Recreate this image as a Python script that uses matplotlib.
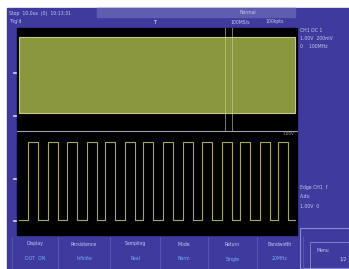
import matplotlib
matplotlib.use("Agg")
import matplotlib.pyplot as plt
from matplotlib.patches import Rectangle

W, H = 349, 269

# channel 2: square wave edges (divisions)
rise_div = [0.39, 1.26, 2.09, 2.96, 3.74, 4.61, 5.39, 6.26, 7.13, 7.96, 8.83, 9.61, 10.48, 11.26]
fall_div = [0.82, 1.69, 2.52, 3.39, 4.17, 5.04, 5.82, 6.69, 7.56, 8.39, 9.26, 10.04, 10.91, 11.69]
sq_low, sq_high = 0.0, 1.0

# channel 1: dense signal, only the envelope is visible
env_t = [0.0, 12.0]
env_hi = [1.0, 1.0]
env_lo = [-1.0, -1.0]
cursor_div = [8.96, 9.26]

menu_labels = ["Display", "Persistence", "Sampling", "Mode", "Return", "Bandwidth"]
menu_values = ["DOT  ON", "Infinite", "Real", "Norm", "Single", "20MHz"]

purple = "#3f3b9e"
olive = "#8b973c"
trace = "#a8a852"
txt = "#c8c8f0"
cyan = "#6fb4ff"


def box(x0, y0, x1, y1):
    return [x0 / W, 1 - y1 / H, (x1 - x0) / W, (y1 - y0) / H]


fig = plt.figure(figsize=(W / 100, H / 100), dpi=100)
fig.patch.set_facecolor("white")

bg = fig.add_axes([0, 0, 1, 1])
bg.set_xlim(0, W)
bg.set_ylim(H, 0)
bg.axis("off")
bg.add_patch(Rectangle((7, 8), W - 7, H - 8, color=purple))
bg.add_patch(Rectangle((97, 8), 198, 9, color="#5f5db0"))
bg.add_patch(Rectangle((17, 28), 280, 207, color="black"))

# header text
bg.text(9, 13, "Stop  10.0us  (0)  10:13:31", color=txt, fontsize=3.3, va="center")
bg.text(9, 22, "Trig'd", color=txt, fontsize=3.3, va="center")
bg.text(155, 22, "T", color="white", fontsize=3.5, va="center", ha="center")
bg.text(240, 12, "Normal", color=txt, fontsize=3.3, va="center")
bg.text(230, 22, "100MS/s", color=txt, fontsize=3.3, va="center")
bg.text(265, 22, "100kpts", color=txt, fontsize=3.3, va="center")

# right side panel
for y, s in [(30, "CH1 DC 1"), (38, "1.00V  200mV"), (47, "0    100MHz")]:
    bg.text(300, y, s, color=txt, fontsize=3.3, va="center")
for y, s in [(187, "Edge CH1  f"), (197, "Auto"), (207, "1.00V  0")]:
    bg.text(300, y, s, color=txt, fontsize=3.3, va="center")

# channel markers on the left edge
for y in [73, 116, 179, 221]:
    bg.plot([14, 16], [y, y], color="#d8d8f0", lw=1.2)

# bottom menu
seps = [12, 58, 110, 160, 208, 257, 303]
for x in seps:
    bg.plot([x, x], [237, 268], color="#5754b4", lw=0.8)
for i, (lab, val) in enumerate(zip(menu_labels, menu_values)):
    xc = (seps[i] + seps[i + 1]) / 2
    bg.text(xc, 244, lab, color=txt, fontsize=3.3, ha="center", va="center")
    bg.text(xc, 259, val, color=cyan, fontsize=3.3, ha="center", va="center")
bg.add_patch(Rectangle((300, 228), 49, 40, fill=False, ec="#8a88d0", lw=0.8))
bg.add_patch(Rectangle((310, 242), 39, 26, fill=False, ec="#8a88d0", lw=0.6))
bg.text(323, 250, "Menu", color=txt, fontsize=3.3, ha="center", va="center")
bg.text(343, 259, "1/2", color=txt, fontsize=3.3, ha="center", va="center")

# top panel: channel 1
xlim = (-2 / 23, 12 + 2 / 23)
ax1 = fig.add_axes(box(17, 28, 297, 131))
ax1.set_facecolor("black")
ax1.fill_between(env_t, env_lo, env_hi, color=olive, ec="#c8c880", lw=0.8)
for c in cursor_div:
    ax1.axvline(c, color="#d0d0a0", lw=0.7, alpha=0.6)
ax1.set_xlim(*xlim)
ax1.set_ylim(-1.474, 1.236)
ax1.axis("off")

# separator between panels
bg.plot([17, 297], [131, 131], color="#a0a0b0", lw=0.8)
bg.text(294, 134, "1.00V", color="#a0a0b0", fontsize=3, ha="right", va="center")

# bottom panel: channel 2
tt, vv = [0.0], [sq_low]
for r, f in zip(rise_div, fall_div):
    tt += [r, r, f, f]
    vv += [sq_low, sq_high, sq_high, sq_low]
tt.append(12.0)
vv.append(sq_low)
ax2 = fig.add_axes(box(17, 132, 297, 232))
ax2.plot(tt, vv, color=trace, lw=0.8)
ax2.set_xlim(*xlim)
ax2.set_ylim(-0.154, 1.128)
ax2.axis("off")

fig.savefig("out.png", dpi=100, facecolor=fig.get_facecolor())
